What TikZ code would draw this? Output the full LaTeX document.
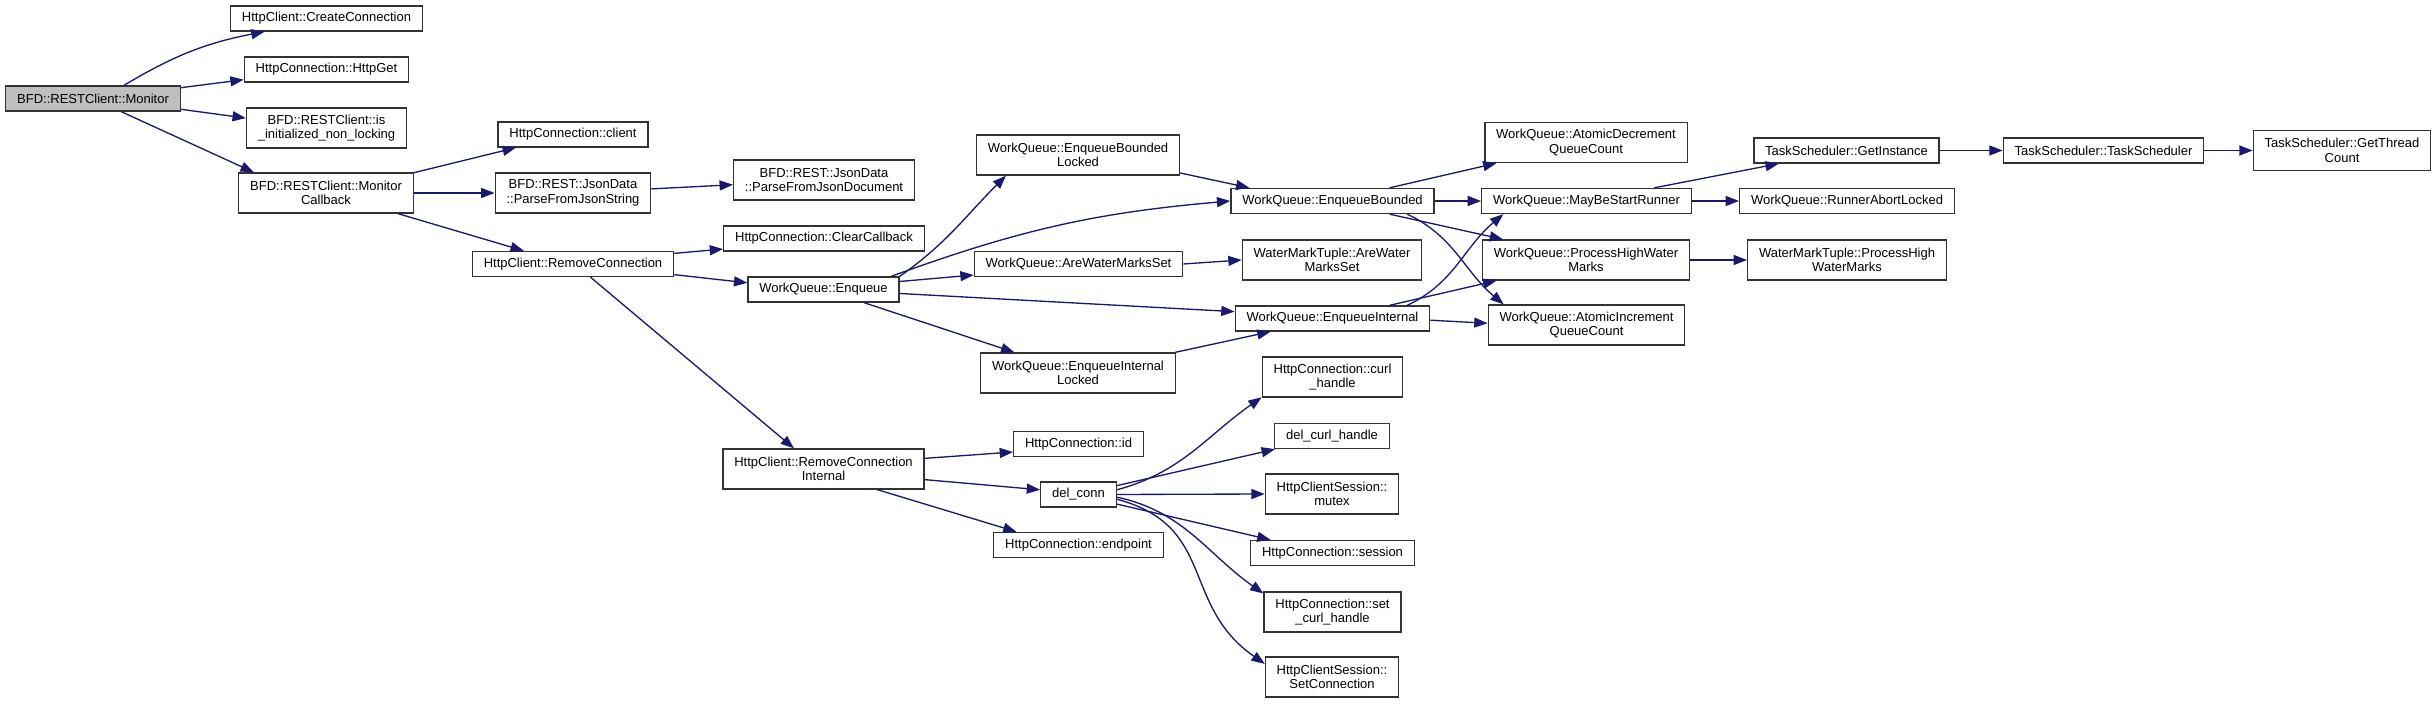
\documentclass[tikz,border=0pt]{standalone}
\usepackage{fontspec}
\setmainfont{Liberation Sans}
\usetikzlibrary{arrows.meta}
\definecolor{edgeblue}{HTML}{191970}
\definecolor{rootgray}{HTML}{BFBFBF}
\tikzset{
  fn/.style={draw=black!80, line width=1pt, fill=white, align=center,
    inner xsep=8.5pt, inner ysep=0pt, minimum height=18.75pt,
    font=\fontsize{9.75}{11}\selectfont},
  tall/.style={minimum height=30pt},
  call/.style={draw=edgeblue, line width=1pt, -{Triangle[length=10pt,width=7.5pt]}}
}
\begin{document}
\begin{tikzpicture}[x=0.75pt, y=0.75pt]
  \useasboundingbox (0,0) rectangle (2436,703);
  \begin{scope}
    \begin{scope}[every node/.style={fn}]
      \node[fill=rootgray] (mon) at (93,604.5) {BFD::RESTClient::Monitor};
      % first level
      \node (cc) at (326.5,684.5) {HttpClient::CreateConnection};
      \node (hget) at (326.5,633.5) {HttpConnection::HttpGet};
      \node[tall] (isinit) at (326.5,575) {BFD::RESTClient::is\\\_initialized\_non\_locking};
      \node[tall] (mcb) at (326,510) {BFD::RESTClient::Monitor\\Callback};
      \node (client) at (573,568.5) {HttpConnection::client};
      \node[tall] (pfjs) at (573,510) {BFD::REST::JsonData\\::ParseFromJsonString};
      \node (rc) at (573,439) {HttpClient::RemoveConnection};
      \node[tall] (pfjd) at (824,523) {BFD::REST::JsonData\\::ParseFromJsonDocument};
      \node (clrcb) at (824,464.5) {HttpConnection::ClearCallback};
      \node (enq) at (823.5,413.5) {WorkQueue::Enqueue};
      \node[tall] (rci) at (823.5,234) {HttpClient::RemoveConnection\\Internal};
      % work queue
      \node[tall] (ebl) at (1078,548) {WorkQueue::EnqueueBounded\\Locked};
      \node (awms) at (1078.5,439) {WorkQueue::AreWaterMarksSet};
      \node[tall] (eil) at (1078,330) {WorkQueue::EnqueueInternal\\Locked};
      \node (eb) at (1332.5,502) {WorkQueue::EnqueueBounded};
      \node[tall] (wawms) at (1332,443) {WaterMarkTuple::AreWater\\MarksSet};
      \node (ei) at (1332.5,384.5) {WorkQueue::EnqueueInternal};
      \node[tall] (adec) at (1586,560.5) {WorkQueue::AtomicDecrement\\QueueCount};
      \node (mbsr) at (1586.5,502) {WorkQueue::MayBeStartRunner};
      \node[tall] (phwm) at (1586,443) {WorkQueue::ProcessHighWater\\Marks};
      \node[tall] (ainc) at (1586.5,378) {WorkQueue::AtomicIncrement\\QueueCount};
      \node (getinst) at (1846.5,552.5) {TaskScheduler::GetInstance};
      \node (rabort) at (1847,502) {WorkQueue::RunnerAbortLocked};
      \node[tall] (wphwm) at (1847,443) {WaterMarkTuple::ProcessHigh\\WaterMarks};
      \node (tsched) at (2103.5,552.5) {TaskScheduler::TaskScheduler};
      \node[tall] (gtc) at (2342,552.5) {TaskScheduler::GetThread\\Count};
      % connection cleanup
      \node (hid) at (1078.5,259) {HttpConnection::id};
      \node (dconn) at (1078.5,208.5) {del\_conn};
      \node (endp) at (1078.5,158) {HttpConnection::endpoint};
      \node[tall] (curlh) at (1332.5,326) {HttpConnection::curl\\\_handle};
      \node (dcurl) at (1332,267) {del\_curl\_handle};
      \node[tall] (mutex) at (1332,209) {HttpClientSession::\\mutex};
      \node (sess) at (1332.5,150) {HttpConnection::session};
      \node[tall] (setcurl) at (1332.5,91) {HttpConnection::set\\\_curl\_handle};
      \node[tall] (setconn) at (1332,26) {HttpClientSession::\\SetConnection};
    \end{scope}
    \begin{scope}[every edge/.style={call}]
      \path (mon.23) edge[bend left=10] (cc.192);
      \path (mon.7) edge (hget.187);
      \path (mon.-7) edge (isinit.173);
      \path (mon.-25) edge (mcb.164);
      \path (mcb.13) edge (client.193);
      \path (mcb.east) edge (pfjs.west);
      \path (mcb.-16) edge (rc.165);
      \path (pfjs.3) edge (pfjd.183);
      \path (rc.6) edge (clrcb.186);
      \path (rc.-6) edge (enq.175);
      \path (rc.-37) edge (rci.145);
      \path (enq.north east) edge[out=35,in=-135] (ebl.196);
      \path (enq.11) edge[out=20,in=185] (eb.west);
      \path (enq.6) edge (awms.186);
      \path (enq.-3) edge (ei.176);
      \path (enq.-18) edge (eil.162);
      \path (ebl.-10) edge (eb.171);
      \path (awms.east) edge (wawms.west);
      \path (eil.12) edge (ei.192);
      \path (eb.13) edge (adec.193);
      \path (eb.east) edge (mbsr.west);
      \path (eb.-13) edge (phwm.166);
      \path (eb.-10) edge[out=-25,in=140] (ainc.166);
      \path (ei.10) edge[out=25,in=-140] (mbsr.189);
      \path (ei.13) edge (phwm.193);
      \path (ei.-1) edge (ainc.179);
      \path (mbsr.11) edge (getinst.191);
      \path (mbsr.east) edge (rabort.west);
      \path (getinst.east) edge (tsched.west);
      \path (tsched.east) edge (gtc.west);
      \path (phwm.east) edge (wphwm.west);
      \path (rci.6) edge (hid.187);
      \path (rci.-6) edge (dconn.173);
      \path (rci.-21) edge (endp.168);
      \path (dconn.7) edge[out=15,in=-145] (curlh.196);
      \path (dconn.13) edge (dcurl.193);
      \path (dconn.east) edge (mutex.west);
      \path (dconn.-14) edge (sess.168);
      \path (dconn.-4) edge[out=-12,in=145] (setcurl.165);
      \path (dconn.-7) edge[out=-15,in=145,looseness=1.2] (setconn.169);
    \end{scope}
  \end{scope}
\end{tikzpicture}
\end{document}
